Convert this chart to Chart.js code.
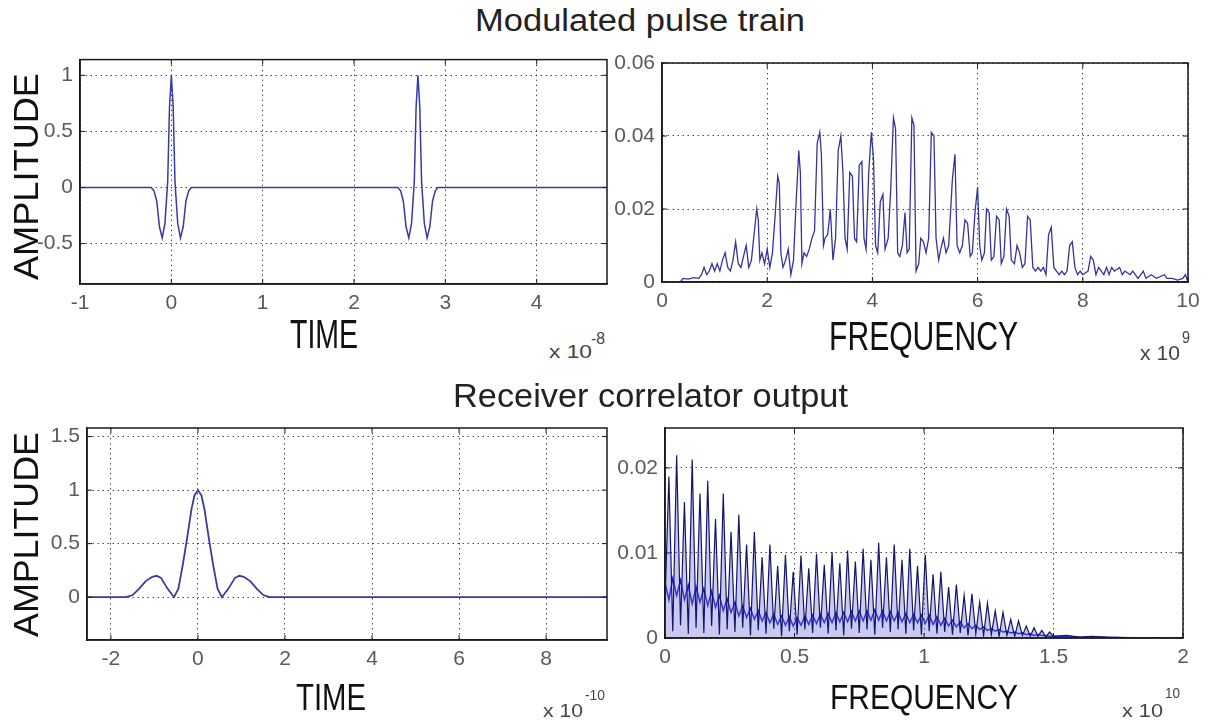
<!DOCTYPE html>
<html><head><meta charset="utf-8">
<script src="https://cdn.jsdelivr.net/npm/chart.js@4.4.1/dist/chart.umd.min.js"></script>
<style>
html,body{margin:0;padding:0;background:#fff;width:1214px;height:727px;overflow:hidden;position:relative;}
canvas{position:absolute;}
.t{position:absolute;left:0;top:0;white-space:nowrap;font-family:'Liberation Sans',Arial,sans-serif;line-height:1;transform-origin:0 0;}
</style></head><body>
<canvas id="cTL"></canvas>
<canvas id="cTR"></canvas>
<canvas id="cBL"></canvas>
<canvas id="cBR"></canvas>
<script>
// ---------- DATA ----------
// Top-left: modulated pulse train, time (x 1e-8) vs amplitude
const tlTime = [-1,
  -0.22, -0.19, -0.16, -0.13, -0.10, -0.07, -0.04, -0.02, 0, 0.02, 0.04, 0.07, 0.10, 0.13, 0.16, 0.19, 0.22,
  2.48, 2.51, 2.54, 2.57, 2.60, 2.63, 2.66, 2.68, 2.70, 2.72, 2.74, 2.77, 2.80, 2.83, 2.86, 2.89, 2.92,
  4.77];
const tlAmp = [0,
  0, -0.03, -0.12, -0.35, -0.45, -0.32, 0.05, 0.72, 1.0, 0.72, 0.05, -0.32, -0.45, -0.35, -0.12, -0.03, 0,
  0, -0.03, -0.12, -0.35, -0.45, -0.32, 0.05, 0.72, 1.0, 0.72, 0.05, -0.32, -0.45, -0.35, -0.12, -0.03, 0,
  0];
const tlXTicks = [-1, 0, 1, 2, 3, 4];
const tlYTicks = [-0.5, 0, 0.5, 1];

// Top-right: spectrum of pulse train, frequency (x 1e9) vs magnitude
const trFreq = [
  0, 0.35, 0.4, 0.5, 0.6, 0.7, 0.75, 0.8, 0.85, 0.9,
  0.95, 1.0, 1.05, 1.1, 1.15, 1.2, 1.25, 1.3, 1.35, 1.4,
  1.45, 1.5, 1.55, 1.6, 1.65, 1.7, 1.75, 1.8, 1.83, 1.86,
  1.9, 1.95, 2.0, 2.05, 2.1, 2.15, 2.2, 2.23, 2.26, 2.3,
  2.35, 2.4, 2.45, 2.5, 2.55, 2.6, 2.63, 2.66, 2.7, 2.75,
  2.8, 2.85, 2.9, 2.95, 3.0, 3.03, 3.07, 3.1, 3.15, 3.2,
  3.25, 3.3, 3.35, 3.4, 3.44, 3.48, 3.52, 3.57, 3.62, 3.66,
  3.7, 3.75, 3.8, 3.84, 3.88, 3.93, 3.98, 4.02, 4.06, 4.1,
  4.15, 4.2, 4.24, 4.3, 4.35, 4.4, 4.44, 4.48, 4.52, 4.57,
  4.62, 4.66, 4.7, 4.75, 4.79, 4.83, 4.88, 4.92, 4.97, 5.02,
  5.07, 5.12, 5.17, 5.21, 5.26, 5.3, 5.35, 5.4, 5.45, 5.52,
  5.57, 5.61, 5.66, 5.71, 5.76, 5.81, 5.86, 5.9, 5.95, 6.0,
  6.04, 6.08, 6.13, 6.17, 6.22, 6.26, 6.31, 6.36, 6.41, 6.45,
  6.5, 6.55, 6.6, 6.64, 6.7, 6.75, 6.8, 6.85, 6.9, 6.95,
  7.0, 7.05, 7.1, 7.15, 7.2, 7.25, 7.3, 7.35, 7.4, 7.45,
  7.5, 7.55, 7.6, 7.65, 7.7, 7.75, 7.8, 7.85, 7.9, 7.95,
  8.0, 8.1, 8.15, 8.2, 8.25, 8.3, 8.4, 8.45, 8.5, 8.55,
  8.6, 8.7, 8.75, 8.8, 8.9, 8.95, 9.05, 9.15, 9.2, 9.3,
  9.4, 9.55, 9.6, 9.7, 9.8, 9.9, 9.95, 10];
const trMag = [
  0, 0, 0.001, 0.0008, 0.0012, 0.001, 0.002, 0.004, 0.002, 0.003,
  0.005, 0.003, 0.005, 0.003, 0.006, 0.008, 0.004, 0.003, 0.006, 0.011,
  0.005, 0.004, 0.007, 0.010, 0.004, 0.006, 0.013, 0.020, 0.017, 0.006,
  0.008, 0.005, 0.009, 0.004, 0.008, 0.018, 0.029, 0.027, 0.008, 0.004,
  0.006, 0.009, 0.002, 0.006, 0.022, 0.036, 0.030, 0.005, 0.008, 0.007,
  0.009, 0.012, 0.014, 0.038, 0.041, 0.035, 0.010, 0.012, 0.013, 0.020,
  0.006, 0.012, 0.036, 0.040, 0.030, 0.012, 0.009, 0.030, 0.029, 0.012,
  0.011, 0.032, 0.033, 0.012, 0.009, 0.030, 0.041, 0.034, 0.010, 0.008,
  0.022, 0.024, 0.009, 0.012, 0.026, 0.045, 0.042, 0.008, 0.007, 0.010,
  0.019, 0.008, 0.009, 0.045, 0.043, 0.003, 0.005, 0.012, 0.011, 0.008,
  0.012, 0.041, 0.040, 0.012, 0.006, 0.009, 0.012, 0.008, 0.010, 0.028,
  0.035, 0.010, 0.008, 0.010, 0.017, 0.016, 0.007, 0.008, 0.019, 0.026,
  0.010, 0.006, 0.008, 0.020, 0.019, 0.006, 0.007, 0.018, 0.017, 0.005,
  0.007, 0.020, 0.018, 0.006, 0.005, 0.010, 0.008, 0.004, 0.005, 0.018,
  0.017, 0.004, 0.003, 0.004, 0.003, 0.004, 0.002, 0.013, 0.015, 0.004,
  0.003, 0.002, 0.003, 0.002, 0.003, 0.010, 0.011, 0.004, 0.002, 0.003,
  0.002, 0.003, 0.007, 0.006, 0.002, 0.004, 0.002, 0.004, 0.002, 0.004,
  0.003, 0.004, 0.002, 0.003, 0.002, 0.003, 0.001, 0.003, 0.001, 0.002,
  0.001, 0.002, 0.001, 0.001, 0.0005, 0.001, 0.002, 0];
const trXTicks = [0, 2, 4, 6, 8, 10];
const trYTicks = [0, 0.02, 0.04, 0.06];

// Bottom-left: receiver correlator output, time (x 1e-10) vs amplitude
const blTime = [-2.55, -1.65, -1.5, -1.35, -1.2, -1.05, -0.95, -0.85, -0.7, -0.55,
  -0.45, -0.35, -0.25, -0.15, -0.08, 0, 0.08, 0.15, 0.25, 0.35,
  0.45, 0.55, 0.7, 0.85, 0.95, 1.05, 1.2, 1.35, 1.5, 1.65, 9.4];
const blAmp = [0, 0, 0.02, 0.08, 0.15, 0.19, 0.2, 0.18, 0.08, 0.0,
  0.08, 0.3, 0.55, 0.82, 0.95, 1.0, 0.95, 0.82, 0.55, 0.3,
  0.08, 0.0, 0.08, 0.18, 0.2, 0.19, 0.15, 0.08, 0.02, 0, 0];
const blXTicks = [-2, 0, 2, 4, 6, 8];
const blYTicks = [0, 0.5, 1, 1.5];

// Bottom-right: spectrum of correlator output, frequency (x 1e10) vs magnitude
const brFreq = [
  0, 0.015, 0.03, 0.045, 0.06, 0.075, 0.09, 0.105, 0.12, 0.135,
  0.15, 0.165, 0.18, 0.195, 0.21, 0.225, 0.24, 0.255, 0.27, 0.285,
  0.3, 0.315, 0.33, 0.345, 0.36, 0.375, 0.39, 0.405, 0.42, 0.435,
  0.45, 0.465, 0.48, 0.495, 0.51, 0.525, 0.54, 0.555, 0.57, 0.585,
  0.6, 0.615, 0.63, 0.645, 0.66, 0.675, 0.69, 0.705, 0.72, 0.735,
  0.75, 0.765, 0.78, 0.795, 0.81, 0.825, 0.84, 0.855, 0.87, 0.885,
  0.9, 0.915, 0.93, 0.945, 0.96, 0.975, 0.99, 1.005, 1.02, 1.035,
  1.05, 1.065, 1.08, 1.095, 1.11, 1.125, 1.14, 1.155, 1.17, 1.185,
  1.2, 1.215, 1.23, 1.245, 1.26, 1.275, 1.29, 1.305, 1.32, 1.335,
  1.35, 1.365, 1.38, 1.395, 1.41, 1.425, 1.44, 1.455, 1.47, 1.485,
  1.5, 1.55, 1.6, 1.65, 1.7, 1.8, 1.9, 2.0];
const brUpper = [
  0.004, 0.019, 0.0008, 0.0215, 0.0015, 0.016, 0.0005, 0.021, 0.0012, 0.017,
  0.0006, 0.0185, 0.0014, 0.014, 0.0004, 0.017, 0.001, 0.0125, 0.0007, 0.0145,
  0.0012, 0.011, 0.0003, 0.0125, 0.0009, 0.0095, 0.0005, 0.011, 0.0011, 0.0085,
  0.0002, 0.0098, 0.0008, 0.0078, 0.0004, 0.0097, 0.001, 0.0082, 0.0006, 0.0099,
  0.0012, 0.0086, 0.0005, 0.0101, 0.0009, 0.0088, 0.0003, 0.0103, 0.0011, 0.009,
  0.0006, 0.0105, 0.001, 0.0092, 0.0004, 0.0112, 0.0012, 0.0095, 0.0007, 0.011,
  0.001, 0.0092, 0.0005, 0.0105, 0.0009, 0.0085, 0.0004, 0.0098, 0.0008, 0.0075,
  0.0005, 0.0078, 0.0007, 0.006, 0.0004, 0.0063, 0.0006, 0.005, 0.0003, 0.0052,
  0.0005, 0.0042, 0.0003, 0.0041, 0.0004, 0.0032, 0.0002, 0.003, 0.0003, 0.0022,
  0.0002, 0.002, 0.0003, 0.0014, 0.0002, 0.0012, 0.0002, 0.0009, 0.0001, 0.0007,
  0.0002, 0.0003, 0.0001, 0.0002, 0.0001, 0.00005, 0, 0];
const brLower = [
  0.0065, 0.0045, 0.007, 0.005, 0.0068, 0.0045, 0.0062, 0.004, 0.006, 0.0042,
  0.0058, 0.0038, 0.0055, 0.0036, 0.005, 0.0032, 0.0046, 0.003, 0.0042, 0.0026,
  0.0038, 0.0024, 0.0035, 0.0022, 0.0032, 0.002, 0.003, 0.0018, 0.0028, 0.0016,
  0.0026, 0.0015, 0.0025, 0.0014, 0.0024, 0.0015, 0.0026, 0.0016, 0.0027, 0.0017,
  0.0028, 0.0018, 0.0029, 0.0018, 0.003, 0.0019, 0.003, 0.0019, 0.0031, 0.002,
  0.0032, 0.002, 0.0032, 0.0021, 0.0033, 0.0021, 0.0032, 0.002, 0.0031, 0.002,
  0.003, 0.0019, 0.0029, 0.0018, 0.0028, 0.0018, 0.0027, 0.0017, 0.0027, 0.0016,
  0.0025, 0.0015, 0.0023, 0.0014, 0.0021, 0.0013, 0.0019, 0.0012, 0.0017, 0.0011,
  0.0015, 0.001, 0.0013, 0.0009, 0.0011, 0.0008, 0.001, 0.0007, 0.0008, 0.0006,
  0.0007, 0.0005, 0.0006, 0.0004, 0.0005, 0.0003, 0.0004, 0.0003, 0.0003, 0.0002,
  0.0002, 0.0002, 0.0001, 0.0001, 0.0001, 0, 0, 0];
const brXTicks = [0, 0.5, 1, 1.5, 2];
const brYTicks = [0, 0.01, 0.02];

// ---------- RENDERING ----------
const FONT = "'Liberation Sans', Arial, sans-serif";
const CAP = 0.70;

function pts(xs, ys) { return xs.map((x, i) => ({ x: x, y: ys[i] })); }

const boxPlugin = {
  id: 'matlabBox',
  afterDraw(chart) {
    const { ctx, chartArea: a, scales } = chart;
    ctx.save();
    ctx.strokeStyle = '#1a1a1a';
    ctx.lineWidth = 1.5;
    ctx.strokeRect(a.left, a.top, a.right - a.left, a.bottom - a.top);
    ctx.lineWidth = 1;
    ctx.beginPath();
    scales.x.ticks.forEach(t => {
      const p = scales.x.getPixelForValue(t.value);
      ctx.moveTo(p, a.bottom); ctx.lineTo(p, a.bottom - 5);
      ctx.moveTo(p, a.top); ctx.lineTo(p, a.top + 5);
    });
    scales.y.ticks.forEach(t => {
      const p = scales.y.getPixelForValue(t.value);
      ctx.moveTo(a.left, p); ctx.lineTo(a.left + 5, p);
      ctx.moveTo(a.right, p); ctx.lineTo(a.right - 5, p);
    });
    ctx.stroke();
    ctx.restore();
  }
};

function axisOpts(range, ticksArr, fitFn, pad) {
  return {
    type: 'linear', min: range[0], max: range[1],
    afterBuildTicks: s => { s.ticks = ticksArr.map(v => ({ value: v })); },
    afterFit: fitFn,
    ticks: { font: { family: FONT, size: 21 }, color: '#5a5a5a', padding: pad, autoSkip: false, maxRotation: 0, callback: v => String(v) },
    grid: { color: 'rgba(0,0,0,0.7)', lineWidth: 1, drawTicks: false },
    border: { display: true, color: '#1a1a1a', width: 1.5, dash: [1.5, 3.5] }
  };
}

function makeChart(id, b, datasets, xr, yr, xt, yt) {
  const c = document.getElementById(id);
  c.width = b.cw; c.height = b.ch;
  c.style.left = b.cx + 'px'; c.style.top = b.cy + 'px';
  c.style.width = b.cw + 'px'; c.style.height = b.ch + 'px';
  return new Chart(c, {
    type: 'line',
    data: { datasets: datasets },
    options: {
      responsive: false, animation: false, devicePixelRatio: 1,
      layout: { padding: { left: 0, top: b.T - b.cy, right: b.cx + b.cw - b.R, bottom: 0 } },
      plugins: { legend: { display: false }, tooltip: { enabled: false }, title: { display: false } },
      elements: { point: { radius: 0 }, line: { tension: 0 } },
      scales: {
        x: axisOpts(xr, xt, s => { s.height = b.cy + b.ch - b.B; }, 7),
        y: axisOpts(yr, yt, s => { s.width = b.L - b.cx; }, 7)
      }
    },
    plugins: [boxPlugin]
  });
}

makeChart('cTL', { cx: 0, cy: 40, cw: 620, ch: 280, L: 80, T: 59, R: 607, B: 284 },
  [{ data: pts(tlTime, tlAmp), borderColor: '#3a3aa2', borderWidth: 1.5, fill: false }],
  [-1, 4.77], [-0.86, 1.14], tlXTicks, tlYTicks);

makeChart('cTR', { cx: 600, cy: 40, cw: 614, ch: 280, L: 662, T: 63, R: 1188, B: 282 },
  [{ data: pts(trFreq, trMag), borderColor: '#34349c', borderWidth: 1.3, fill: false }],
  [0, 10], [0, 0.06], trXTicks, trYTicks);

makeChart('cBL', { cx: 0, cy: 405, cw: 620, ch: 275, L: 87, T: 428, R: 607, B: 640 },
  [{ data: pts(blTime, blAmp), borderColor: '#3a3a9a', borderWidth: 1.8, fill: false }],
  [-2.55, 9.4], [-0.4, 1.58], blXTicks, blYTicks);

makeChart('cBR', { cx: 600, cy: 405, cw: 614, ch: 275, L: 665, T: 428, R: 1183, B: 638 },
  [
    { data: pts(brFreq, brUpper), borderColor: '#15156a', borderWidth: 1.2, fill: 'origin', backgroundColor: 'rgba(100,100,215,0.35)' },
    { data: pts(brFreq, brLower), borderColor: '#1e1ee0', borderWidth: 1.5, fill: false }
  ],
  [0, 2], [0, 0.0247], brXTicks, brYTicks);

// ---------- TEXT (real HTML text) ----------
function hText(str, left, right, capTop, baseline, color) {
  const F = (baseline - capTop) / CAP;
  const el = document.createElement('div');
  el.className = 't';
  el.textContent = str;
  el.style.fontSize = F + 'px';
  el.style.color = color;
  document.body.appendChild(el);
  const w = el.getBoundingClientRect().width;
  const s = (right - left) / w;
  el.style.transform = 'translate(' + left + 'px,' + (baseline - 0.8465 * F) + 'px) scaleX(' + s + ')';
}
function vText(str, xCap, xBase, yStart, yEnd, color) {
  const F = (xBase - xCap) / CAP;
  const el = document.createElement('div');
  el.className = 't';
  el.textContent = str;
  el.style.fontSize = F + 'px';
  el.style.color = color;
  document.body.appendChild(el);
  const w = el.getBoundingClientRect().width;
  const s = (yStart - yEnd) / w;
  el.style.transform = 'translate(' + (xBase - 0.8465 * F) + 'px,' + yStart + 'px) rotate(-90deg) scaleX(' + s + ')';
}

hText('Modulated pulse train', 475, 805, 10, 32, '#222');
hText('Receiver correlator output', 453, 848, 385, 408, '#222');
hText('TIME', 290, 358, 320, 348, '#111');
hText('FREQUENCY', 829, 1018, 322, 350, '#111');
hText('TIME', 296, 366, 684, 710, '#111');
hText('FREQUENCY', 830, 1018, 685, 709, '#111');
vText('AMPLITUDE', 14, 39, 280, 73, '#111');
vText('AMPLITUDE', 14, 38, 637, 432, '#111');

hText('x 10', 549, 592, 346, 359, '#444');
hText('-8', 591, 605, 333, 344, '#444');
hText('x 10', 1140, 1180, 346, 360, '#444');
hText('9', 1182, 1190, 332, 344, '#444');
hText('x 10', 543, 583, 705, 718, '#444');
hText('-10', 585, 605, 690, 700, '#444');
hText('x 10', 1122, 1163, 705, 718, '#444');
hText('10', 1165, 1180, 688, 698, '#444');
</script>
</body></html>
